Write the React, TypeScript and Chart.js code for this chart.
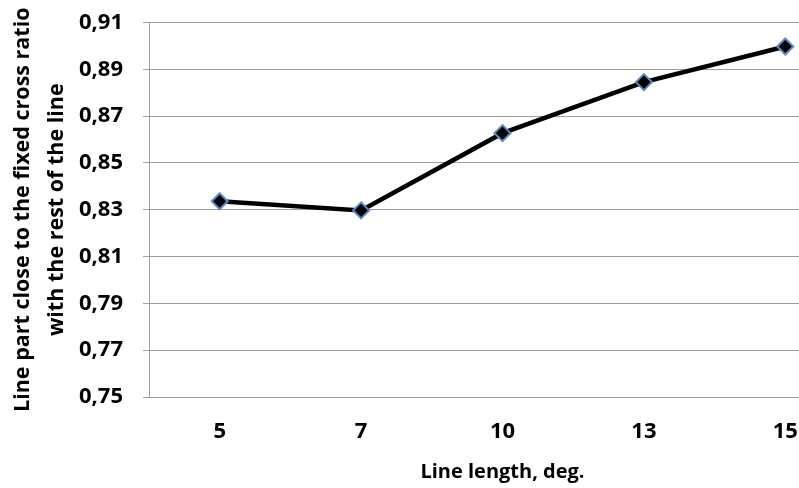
import React, { useEffect, useRef } from "react";
import { Chart, registerables } from "chart.js";

Chart.register(...registerables);

const categories: string[] = ["5", "7", "10", "13", "15"];
const ratioValues: number[] = [0.8336, 0.8297, 0.8627, 0.8845, 0.8997];
const yMin = 0.75;
const yMax = 0.91;
const yStep = 0.02;
const yTitleLines: string[] = ["Line part close to the fixed cross ratio", "with the rest of the line"];
const xTitle = "Line length, deg.";

const FONT = "'Open Sans', 'DejaVu Sans', sans-serif";

export default function App() {
  const ref = useRef<HTMLCanvasElement | null>(null);

  useEffect(() => {
    if (!ref.current) return;
    const chart = new Chart(ref.current, {
      type: "line",
      data: {
        labels: categories,
        datasets: [
          {
            data: ratioValues,
            borderColor: "#000000",
            borderWidth: 4.5,
            tension: 0,
            pointStyle: "rectRot",
            pointRadius: 8,
            pointBackgroundColor: "#000000",
            pointBorderColor: "#5a8bcb",
            pointBorderWidth: 2,
            fill: false,
          },
        ],
      },
      options: {
        animation: false,
        responsive: true,
        maintainAspectRatio: false,
        layout: { autoPadding: false, padding: { top: 22, right: 4, bottom: 0, left: 0 } },
        plugins: { legend: { display: false }, tooltip: { enabled: false } },
        scales: {
          x: {
            type: "category",
            offset: true,
            grid: { display: false, drawTicks: false, tickLength: 0 },
            border: { display: true, color: "#a0a0a0", width: 1 },
            ticks: {
              color: "#000",
              padding: 22,
              font: { family: FONT, size: 22, weight: "bold" },
            },
            title: {
              display: true,
              text: xTitle,
              color: "#000",
              font: { family: FONT, size: 20, weight: "bold" },
              padding: { top: 0, bottom: 4 },
            },
            afterFit: (s: any) => {
              s.height = 91;
            },
          },
          y: {
            min: yMin,
            max: yMax,
            grid: { color: "#a0a0a0", lineWidth: 1, drawTicks: true, tickLength: 6 },
            border: { display: true, color: "#a0a0a0", width: 1 },
            ticks: {
              stepSize: yStep,
              color: "#000",
              padding: 20,
              font: { family: FONT, size: 22, weight: "bold", lineHeight: 0.22 },
              callback: (v: any) => Number(v).toFixed(2).replace(".", ","),
            },
            title: {
              display: true,
              text: yTitleLines,
              color: "#000",
              font: { family: FONT, size: 21.5, weight: "bold", lineHeight: 34 / 21.5 },
              padding: { top: 6, bottom: 0 },
            },
            afterFit: (s: any) => {
              s.width = 149;
            },
          },
        },
      },
    });
    return () => chart.destroy();
  }, []);

  return (
    <div style={{ position: "fixed", left: 0, top: 0, width: 799, height: 488, overflow: "hidden", background: "#fff" }}>
      <div style={{ position: "relative", width: 860, height: 488 }}>
        <canvas ref={ref} />
      </div>
    </div>
  );
}
